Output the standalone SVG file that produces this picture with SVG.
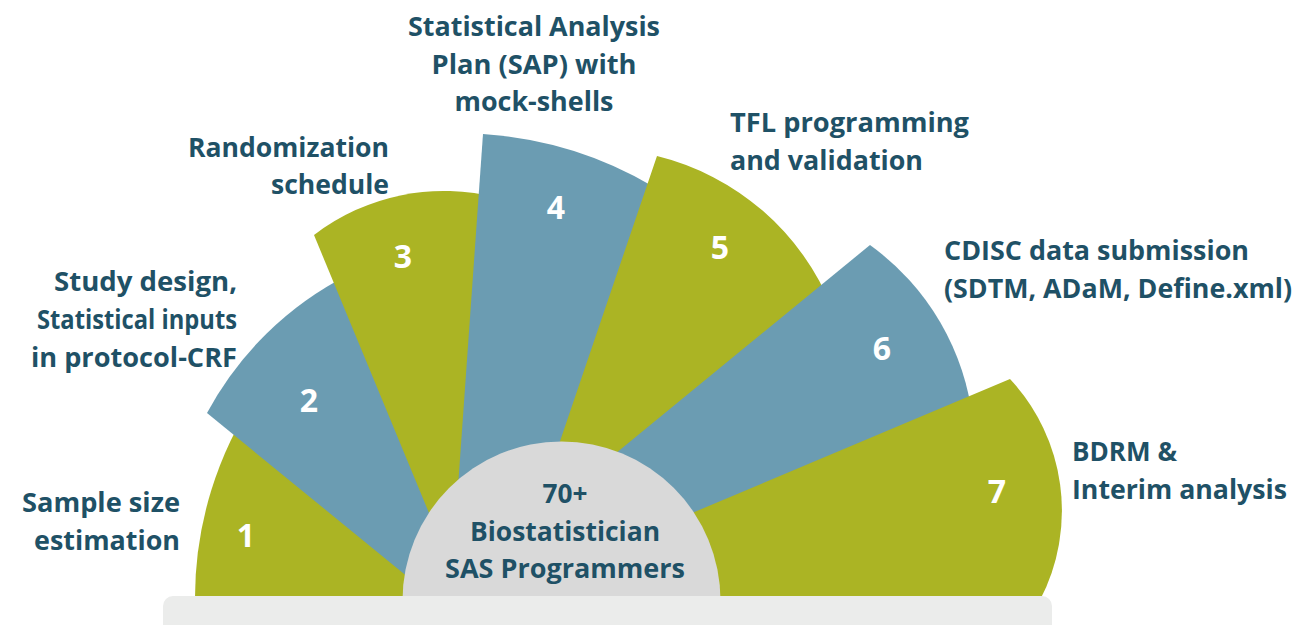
<svg xmlns="http://www.w3.org/2000/svg" width="1307" height="625" viewBox="0 0 1307 625">
<style>
.g{fill:#abb424}
.b{fill:#6b9cb2}
.lbl{font-family:"Open Sans","Noto Sans","Liberation Sans",sans-serif;font-weight:700;font-size:26px;fill:#1f5166}
.num{font-family:"Open Sans","Noto Sans","Liberation Sans",sans-serif;font-weight:700;font-size:32px;fill:#ffffff;text-anchor:middle}
.r{text-anchor:end}
.m{text-anchor:middle}
</style>
<rect width="1307" height="625" fill="#ffffff"/>
<g id="step1">
<path class="g" d="M195 600 A366 366 0 0 1 260 390 L450 600 Z"/>
<text class="num" x="246" y="547">1</text>
<text class="lbl r" x="180" y="512" textLength="158" lengthAdjust="spacingAndGlyphs">Sample size</text>
<text class="lbl r" x="180" y="550" textLength="146" lengthAdjust="spacingAndGlyphs">estimation</text>
</g>
<g id="step2">
<path class="b" d="M436 600 L207 413 A330 330 0 0 1 348 275 L477 600 Z"/>
<text class="num" x="309" y="412">2</text>
<text class="lbl r" x="237" y="291" textLength="183" lengthAdjust="spacingAndGlyphs">Study design,</text>
<text class="lbl r" x="237" y="329" textLength="200" lengthAdjust="spacingAndGlyphs">Statistical inputs</text>
<text class="lbl r" x="237" y="367" textLength="206" lengthAdjust="spacingAndGlyphs">in protocol-CRF</text>
</g>
<g id="step3">
<path class="g" d="M465 600 L314 235 A213 213 0 0 1 498 198 L475 600 Z"/>
<text class="num" x="403" y="268">3</text>
<text class="lbl r" x="389" y="157" textLength="201" lengthAdjust="spacingAndGlyphs">Randomization</text>
<text class="lbl r" x="389" y="194" textLength="118" lengthAdjust="spacingAndGlyphs">schedule</text>
</g>
<g id="step4">
<path class="b" d="M450 600 L483 134 A387 387 0 0 1 673 199 L520 600 Z"/>
<text class="num" x="556" y="219">4</text>
<text class="lbl m" x="534" y="36" textLength="252" lengthAdjust="spacingAndGlyphs">Statistical Analysis</text>
<text class="lbl m" x="534" y="74" textLength="205" lengthAdjust="spacingAndGlyphs">Plan (SAP) with</text>
<text class="lbl m" x="534" y="111" textLength="159" lengthAdjust="spacingAndGlyphs">mock-shells</text>
</g>
<g id="step5">
<path class="g" d="M506 600 L657 156 A254 254 0 0 1 832 308 L525 540 Z"/>
<text class="num" x="720" y="259">5</text>
<text class="lbl" x="730" y="132" textLength="239" lengthAdjust="spacingAndGlyphs">TFL programming</text>
<text class="lbl" x="730" y="170" textLength="193" lengthAdjust="spacingAndGlyphs">and validation</text>
</g>
<g id="step6">
<path class="b" d="M510 540 L870 245 A251 251 0 0 1 973 422 L645 540 Z"/>
<text class="num" x="882" y="360">6</text>
<text class="lbl" x="944" y="260" textLength="305" lengthAdjust="spacingAndGlyphs">CDISC data submission</text>
<text class="lbl" x="944" y="298" textLength="348" lengthAdjust="spacingAndGlyphs">(SDTM, ADaM, Define.xml)</text>
</g>
<g id="step7">
<path class="g" d="M628 540 L1010 379 A193 193 0 0 1 1040 600 L640 600 Z"/>
<text class="num" x="997" y="503">7</text>
<text class="lbl" x="1072" y="461" textLength="105" lengthAdjust="spacingAndGlyphs">BDRM &amp;</text>
<text class="lbl" x="1072" y="499" textLength="215" lengthAdjust="spacingAndGlyphs">Interim analysis</text>
</g>
<g id="center">
<circle cx="561.5" cy="600.5" r="159" fill="#d9d9d9"/>
<text class="lbl m" x="565" y="503" textLength="45" lengthAdjust="spacingAndGlyphs">70+</text>
<text class="lbl m" x="565" y="541" textLength="190" lengthAdjust="spacingAndGlyphs">Biostatistician</text>
<text class="lbl m" x="565" y="578" textLength="240" lengthAdjust="spacingAndGlyphs">SAS Programmers</text>
</g>
<g id="base">
<rect x="163" y="596" width="889" height="44" rx="10" fill="#ebeceb"/>
</g>
</svg>
